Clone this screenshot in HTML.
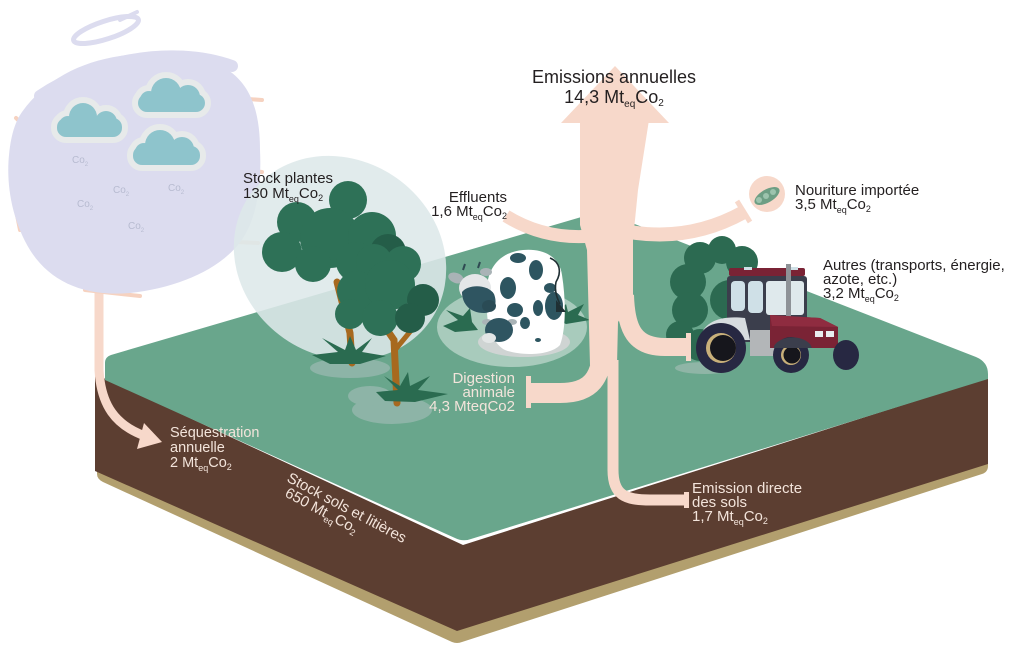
<!DOCTYPE html>
<html><head><meta charset="utf-8"><style>html,body{margin:0;padding:0;background:#fff}svg{display:block}</style></head>
<body>
<svg width="1024" height="651" viewBox="0 0 1024 651" xmlns="http://www.w3.org/2000/svg" font-family="'Liberation Sans', sans-serif">
<rect width="1024" height="651" fill="#fff"/>

<!-- slab -->
<path d="M97 462 L457 621 L988 454 L988 466 Q988 472 982 474 L462 642 Q457 644 452 642 L103 482 Q97 479 97 474 Z" fill="#b29f6e"/>
<path d="M95 374 L463 545 L988 378 L988 464 L457 631 L95 471 Z" fill="#5c3e31"/>
<path d="M105 380 L105 363 Q105 357 111 355 L595 213 Q602 211 609 214 L976 357 Q988 362 988 374 L988 379 L471 539 Q463 542 455 538 Z" fill="#69a68c"/>

<!-- sequestration arrow -->
<path d="M99 280 L99 370 C101 405 115 425 145 436" stroke="#f7d8ca" stroke-width="9" fill="none"/>
<polygon points="162,442 144,423 137,449" fill="#f7d8ca"/>

<!-- peach streaks behind blob -->
<g stroke="#f6d2c0" stroke-width="4" fill="none" stroke-linecap="round">
<path d="M205 96 L262 100"/><path d="M228 168 L262 172"/><path d="M195 240 L258 243"/>
<path d="M16 118 L34 135"/><path d="M85 290 L140 296"/><path d="M12 190 L20 230"/>
</g>
<!-- lavender blob -->
<path d="M22 112 C45 80 80 62 120 56 C160 50 200 52 228 70 C250 85 260 110 260 150 C262 190 255 225 238 245 C215 272 175 288 130 293 C85 297 50 282 30 250 C12 220 6 185 9 155 C11 135 15 122 22 112 Z" fill="#dcdcef"/>
<g stroke="#dcdcef" fill="none" stroke-linecap="round">
<path d="M40 96 C90 62 170 44 232 66" stroke-width="12"/>
<ellipse cx="106" cy="30" rx="34" ry="9" transform="rotate(-18 106 30)" stroke-width="5"/>
<path d="M120 20 L137 12" stroke-width="4"/>
</g>
<!-- clouds -->
<g fill="#e7eaea" stroke="#e7eaea" stroke-width="12">
<rect x="57" y="118" width="65" height="19" rx="9"/><circle cx="83" cy="117" r="14"/><circle cx="106" cy="122" r="11"/><circle cx="68" cy="125" r="9"/>
<rect x="138" y="94" width="67" height="18" rx="9"/><circle cx="166" cy="93" r="15"/><circle cx="188" cy="97" r="12"/><circle cx="149" cy="100" r="9"/>
<rect x="133" y="146" width="67" height="19" rx="9"/><circle cx="160" cy="145" r="15"/><circle cx="182" cy="149" r="12"/><circle cx="144" cy="152" r="9"/>
</g>
<g fill="#8ec4cc">
<rect x="57" y="118" width="65" height="19" rx="9"/><circle cx="83" cy="117" r="14"/><circle cx="106" cy="122" r="11"/><circle cx="68" cy="125" r="9"/>
<rect x="138" y="94" width="67" height="18" rx="9"/><circle cx="166" cy="93" r="15"/><circle cx="188" cy="97" r="12"/><circle cx="149" cy="100" r="9"/>
<rect x="133" y="146" width="67" height="19" rx="9"/><circle cx="160" cy="145" r="15"/><circle cx="182" cy="149" r="12"/><circle cx="144" cy="152" r="9"/>
</g>
<g fill="#b7bbd0" font-size="10">
<text x="72" y="163">Co<tspan font-size="6" dy="3">2</tspan></text>
<text x="113" y="193">Co<tspan font-size="6" dy="3">2</tspan></text>
<text x="168" y="191">Co<tspan font-size="6" dy="3">2</tspan></text>
<text x="77" y="207">Co<tspan font-size="6" dy="3">2</tspan></text>
<text x="128" y="229">Co<tspan font-size="6" dy="3">2</tspan></text>
</g>

<!-- stock plantes circle -->
<ellipse cx="340" cy="258" rx="110" ry="98" transform="rotate(35 340 258)" fill="#dde8e9" opacity="0.88"/>

<!-- tree ground shadows -->
<g fill="#8db4a7">
<ellipse cx="350" cy="368" rx="40" ry="10"/>
<ellipse cx="392" cy="410" rx="40" ry="14"/>
<ellipse cx="370" cy="396" rx="22" ry="10"/>
</g>
<!-- trunks -->
<g stroke="#a7691f" fill="none" stroke-linecap="round">
<path d="M352 363 L350 333 L337 282" stroke-width="7"/>
<path d="M350 320 L373 265" stroke-width="4"/>
<path d="M397 403 L394 340 L372 308" stroke-width="7"/>
<path d="M395 350 L418 322" stroke-width="5"/>
</g>
<!-- tree 1 canopy -->
<g fill="#2e7157">
<circle cx="348" cy="200" r="19"/><circle cx="297" cy="222" r="20"/><circle cx="282" cy="252" r="20"/>
<circle cx="330" cy="238" r="30"/><circle cx="372" cy="236" r="24"/><circle cx="313" cy="264" r="18"/><circle cx="356" cy="262" r="20"/>
</g>
<circle cx="388" cy="252" r="18" fill="#245d48"/>
<!-- tree 2 canopy -->
<g fill="#2e7157">
<circle cx="374" cy="262" r="18"/><circle cx="403" cy="264" r="18"/><circle cx="357" cy="291" r="20"/>
<circle cx="390" cy="285" r="25"/><circle cx="350" cy="314" r="15"/><circle cx="380" cy="318" r="18"/>
</g>
<g fill="#245d48"><circle cx="423" cy="300" r="16"/><circle cx="410" cy="318" r="15"/></g>
<!-- grass tufts -->
<g fill="#2a6b50">
<path d="M312 355 L338 352 L322 338 L345 350 L350 336 L356 350 L372 338 L362 352 L386 356 L360 364 L330 364 Z"/>
<path d="M376 392 L398 390 L384 376 L400 386 L408 372 L410 386 L430 376 L418 390 L448 394 L415 402 L385 401 Z"/>
</g>

<!-- cow -->
<ellipse cx="512" cy="327" rx="75" ry="40" fill="#ffffff" opacity="0.42"/>
<ellipse cx="524" cy="342" rx="46" ry="15" fill="#cfd4d3"/>
<g fill="#2a6b50">
<path d="M443 326 L458 320 L446 310 L463 316 L470 308 L472 322 L478 330 L455 332 Z"/>
<path d="M553 318 L566 304 L568 312 L584 304 L578 315 L590 320 L566 324 Z"/>
</g>
<path d="M487 290 C487 268 500 252 523 250 C545 248 560 258 562 275 C566 300 566 330 560 345 C550 356 520 356 505 350 C495 345 487 330 487 310 Z" fill="#fff"/>
<g fill="#2d5560">
<ellipse cx="536" cy="270" rx="7" ry="10"/><ellipse cx="508" cy="288" rx="8" ry="11"/><ellipse cx="515" cy="310" rx="8" ry="7"/>
<ellipse cx="525" cy="323" rx="5" ry="6"/><ellipse cx="538" cy="308" rx="5" ry="8"/><ellipse cx="554" cy="306" rx="9" ry="14"/>
<ellipse cx="518" cy="258" rx="8" ry="5"/><ellipse cx="550" cy="288" rx="6" ry="5"/><ellipse cx="538" cy="340" rx="3" ry="2"/>
</g>
<path d="M550 258 C560 262 562 272 556 282 C554 292 558 300 560 304" stroke="#1f2f33" stroke-width="1.6" fill="none"/>
<path d="M556 300 L566 312 L556 312 Z" fill="#1f2f33"/>
<!-- head 1 -->
<ellipse cx="456" cy="278" rx="8" ry="5" transform="rotate(20 456 278)" fill="#a9b3b6"/>
<ellipse cx="486" cy="272" rx="6" ry="4" fill="#a9b3b6"/>
<path d="M463 270 L465 264 M478 268 L480 262" stroke="#2f4a52" stroke-width="2"/>
<ellipse cx="475" cy="288" rx="16" ry="14" fill="#e4e7e8"/>
<path d="M462 292 C468 284 488 284 494 294 C498 304 494 313 484 313 C470 313 462 304 462 292 Z" fill="#2f5561"/>
<ellipse cx="489" cy="306" rx="7" ry="6" fill="#2a4b55"/>
<!-- head 2 -->
<ellipse cx="487" cy="322" rx="5" ry="3" fill="#a9b3b6"/><ellipse cx="512" cy="322" rx="5" ry="3" fill="#a9b3b6"/>
<ellipse cx="499" cy="330" rx="14" ry="12" fill="#2f5561"/>
<ellipse cx="489" cy="338" rx="7" ry="5" fill="#e3e6e6"/>

<!-- bush & tractor -->
<g fill="#2c6a51">
<circle cx="700" cy="258" r="16"/><circle cx="722" cy="250" r="14"/><circle cx="742" cy="262" r="16"/>
<circle cx="688" cy="282" r="18"/><circle cx="690" cy="310" r="18"/><circle cx="680" cy="335" r="14"/>
<circle cx="700" cy="345" r="16"/><circle cx="730" cy="300" r="20"/>
</g>
<ellipse cx="705" cy="368" rx="30" ry="6" fill="#8fb5a6"/>
<rect x="727" y="276" width="80" height="66" rx="3" fill="#3b3e4c"/>
<rect x="729" y="268" width="76" height="8" rx="2" fill="#7a2335"/>
<rect x="744" y="267" width="8" height="3" fill="#cfe0e6"/><rect x="790" y="267" width="8" height="3" fill="#cfe0e6"/>
<rect x="731" y="281" width="14" height="30" rx="4" fill="#cfe0e7"/>
<rect x="748" y="281" width="15" height="32" rx="4" fill="#cfe0e7"/>
<rect x="766" y="281" width="38" height="34" rx="3" fill="#dfe9ec"/>
<rect x="786" y="264" width="5" height="56" fill="#8e9297"/>
<rect x="750" y="330" width="25" height="26" fill="#b3b6b8"/>
<path d="M770 315 L820 318 L838 327 L838 348 L770 348 Z" fill="#7a2335"/>
<path d="M770 315 L820 318 L838 327 L772 326 Z" fill="#8f2c40"/>
<rect x="815" y="331" width="8" height="6" fill="#e8eef0"/><rect x="826" y="331" width="8" height="6" fill="#e8eef0"/>
<path d="M700 340 C702 322 720 315 745 318 L750 340 Z" fill="#d7dcdf"/>
<circle cx="721" cy="348" r="25" fill="#272842"/>
<circle cx="721" cy="348" r="15" fill="#c9b07a"/>
<circle cx="723" cy="348" r="13" fill="#16161c"/>
<ellipse cx="846" cy="355" rx="13" ry="15" fill="#272842"/>
<circle cx="791" cy="355" r="18" fill="#272842"/>
<circle cx="791" cy="355" r="10" fill="#c9b07a"/>
<circle cx="792" cy="355" r="8.5" fill="#16161c"/>
<path d="M774 346 C780 336 800 334 810 344 L812 348 L774 348 Z" fill="#3b3e4c"/>

<!-- emission arrows -->
<g fill="#f7d8ca">
<polygon points="561,123 615,66 669,123"/>
<path d="M580 120 L649 120 L638 190 L633 240 L633 300 L618 322 L617 365 L590 365 L587 250 L580 225 Z"/>
<rect x="526" y="376" width="5" height="32"/>
<rect x="686" y="333" width="5" height="28"/>
<rect x="684" y="492" width="5" height="16"/>
<circle cx="767" cy="194" r="18"/>
</g>
<g stroke="#f7d8ca" fill="none">
<path d="M506 216 Q545 240 592 236" stroke-width="13"/>
<path d="M630 232 Q690 242 744 212" stroke-width="14"/>
<path d="M737 201 L750 222" stroke-width="5"/>
<path d="M625 295 C626 330 635 347 665 347 L688 347" stroke-width="18"/>
<path d="M603 340 C603 380 590 393 560 393 L528 393" stroke-width="20"/>
<path d="M613 360 L613 470 C613 495 625 500 650 500 L686 500" stroke-width="11"/>
</g>
<ellipse cx="767" cy="196" rx="14" ry="6.5" transform="rotate(-30 767 196)" fill="#6d9e84"/>
<g fill="#9cc3ad"><circle cx="759" cy="200" r="3"/><circle cx="766" cy="196" r="3"/><circle cx="773" cy="192" r="3"/></g>

<!-- labels (dark) -->
<g fill="#231f20" font-size="15">
<text x="614" y="83" text-anchor="middle" font-size="18">Emissions annuelles</text>
<text x="614" y="103" text-anchor="middle" font-size="18">14,3 Mt<tspan font-size="10" dy="4">eq</tspan><tspan dy="-4">Co</tspan><tspan font-size="10" dy="3">2</tspan></text>
<text x="243" y="183">Stock plantes</text>
<text x="243" y="198">130 Mt<tspan font-size="9" dy="4">eq</tspan><tspan dy="-4">Co</tspan><tspan font-size="9" dy="3">2</tspan></text>
<text x="507" y="202" text-anchor="end">Effluents</text>
<text x="507" y="216" text-anchor="end">1,6 Mt<tspan font-size="9" dy="4">eq</tspan><tspan dy="-4">Co</tspan><tspan font-size="9" dy="3">2</tspan></text>
<text x="795" y="195">Nouriture importée</text>
<text x="795" y="209">3,5 Mt<tspan font-size="9" dy="4">eq</tspan><tspan dy="-4">Co</tspan><tspan font-size="9" dy="3">2</tspan></text>
<text x="823" y="270">Autres (transports, énergie,</text>
<text x="823" y="284">azote, etc.)</text>
<text x="823" y="298">3,2 Mt<tspan font-size="9" dy="4">eq</tspan><tspan dy="-4">Co</tspan><tspan font-size="9" dy="3">2</tspan></text>
</g>
<!-- labels (light) -->
<g fill="#f3e4db" font-size="15">
<text x="515" y="383" text-anchor="end">Digestion</text>
<text x="515" y="397" text-anchor="end">animale</text>
<text x="515" y="411" text-anchor="end">4,3 MteqCo2</text>
<text x="170" y="437" font-size="14.5">Séquestration</text>
<text x="170" y="452" font-size="14.5">annuelle</text>
<text x="170" y="467" font-size="14.5">2 Mt<tspan font-size="9" dy="4">eq</tspan><tspan dy="-4">Co</tspan><tspan font-size="9" dy="3">2</tspan></text>
<text x="692" y="493">Emission directe</text>
<text x="692" y="507">des sols</text>
<text x="692" y="521">1,7 Mt<tspan font-size="9" dy="4">eq</tspan><tspan dy="-4">Co</tspan><tspan font-size="9" dy="3">2</tspan></text>
<text transform="translate(286,481) rotate(28)">Stock sols et litières</text>
<text transform="translate(284,496) rotate(28)">650 Mt<tspan font-size="9" dy="4">eq</tspan><tspan dy="-4">Co</tspan><tspan font-size="9" dy="3">2</tspan></text>
</g>
</svg>
</body></html>
